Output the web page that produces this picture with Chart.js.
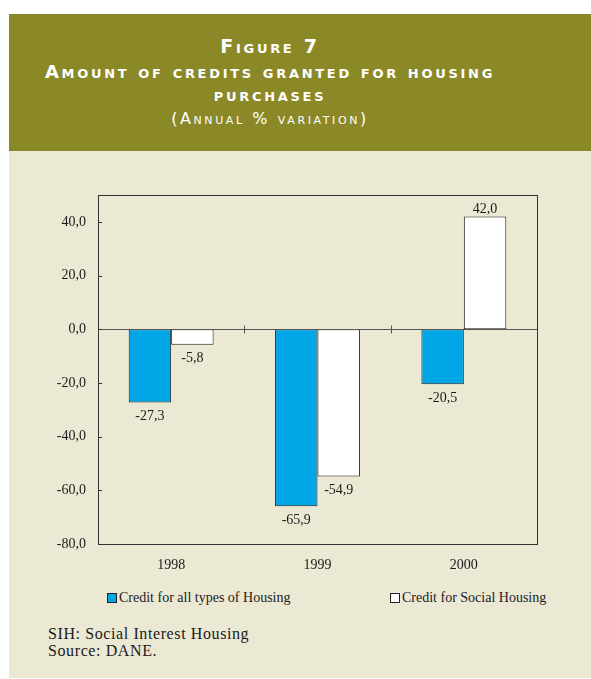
<!DOCTYPE html>
<html lang="en">
  <head>
    <meta charset="UTF-8" />
    <title>Figure 7</title>
    <script src="https://cdn.jsdelivr.net/npm/chart.js"></script>
    <style>
      * {
        margin: 0;
        padding: 0;
        box-sizing: border-box;
      }

      body {
        width: 591px;
        height: 679px;
        background: #ffffff;
        position: relative;
        font-family: "Liberation Serif", serif;
        overflow: hidden;
      }

      /* Header band */
      .header {
        position: absolute;
        left: 9px;
        top: 14px;
        width: 582px;
        height: 137px;
        background: #8b8927;
        color: #ffffff;
        text-align: center;
        font-family: "DejaVu Sans", sans-serif;
        font-weight: bold;
        font-variant: small-caps;
        letter-spacing: 2.7px;
      }

      .header div {
        position: absolute;
        left: 0;
        width: 522px;
        font-size: 18px;
      }

      .header .l1 {
        top: 21px;
        font-size: 19px;
      }

      .header .l2 {
        top: 47px;
      }

      .header .l3 {
        top: 70px;
      }

      .header .l4 {
        top: 95px;
        font-size: 16px;
        font-weight: normal;
        letter-spacing: 2.6px;
      }

      .panel {
        position: absolute;
        left: 9px;
        top: 151px;
        width: 582px;
        height: 527px;
        background: #ebe8d4;
      }

      #chartBox {
        position: absolute;
        left: 0;
        top: 0;
        width: 582px;
        height: 430px;
      }

      .legend {
        position: absolute;
        top: 439px;
        font-size: 14px;
        color: #222;
      }

      .legend span.box {
        display: inline-block;
        width: 10px;
        height: 10px;
        border: 1px solid #222;
        margin-right: 2px;
        vertical-align: -1px;
      }

      .note {
        position: absolute;
        left: 39px;
        top: 474px;
        font-size: 16px;
        line-height: 17px;
        color: #1a1a1a;
        letter-spacing: 0.6px;
      }
    </style>
  </head>
  <body>
    <div class="header">
      <div class="l1">Figure 7</div>
      <div class="l2">Amount of credits granted for housing</div>
      <div class="l3">purchases</div>
      <div class="l4">(Annual % variation)</div>
    </div>

    <div class="panel">
      <div id="chartBox"><canvas id="chart"></canvas></div>

      <div class="legend" style="left: 98px">
        <span class="box" style="background: #00a6e6"></span>Credit for all types of Housing
      </div>
      <div class="legend" style="left: 381px">
        <span class="box" style="background: #ffffff"></span>Credit for Social Housing
      </div>

      <div class="note">SIH: Social Interest Housing<br />Source: DANE.</div>
    </div>

    <script>
      // Data
      const years = ["1998", "1999", "2000"];
      const allHousing = [-27.3, -65.9, -20.5];
      const socialHousing = [-5.8, -54.9, 42.0];
      const yTicks = [-80, -60, -40, -20, 0, 20, 40];

      const fmt = (v) => v.toFixed(1).replace(".", ",");

      // box, inner ticks, zero line, category separators, value labels
      const framePlugin = {
        id: "frame",
        afterDatasetsDraw(chart) {
          const { ctx, chartArea: a, scales } = chart;
          const y = scales.y;
          const x = scales.x;
          ctx.save();
          ctx.lineWidth = 1;

          // zero line
          const y0 = Math.round(y.getPixelForValue(0)) + 0.5;
          ctx.strokeStyle = "#555";
          ctx.beginPath();
          ctx.moveTo(a.left, y0);
          ctx.lineTo(a.right, y0);
          ctx.stroke();

          // separators between categories
          for (let i = 1; i < years.length; i++) {
            const xs =
              Math.round((x.getPixelForValue(i - 1) + x.getPixelForValue(i)) / 2) + 0.5;
            ctx.beginPath();
            ctx.moveTo(xs, y0 - 4);
            ctx.lineTo(xs, y0 + 4);
            ctx.stroke();
          }

          // frame
          ctx.strokeStyle = "#333";
          ctx.strokeRect(
            Math.round(a.left) + 0.5,
            Math.round(a.top) + 0.5,
            Math.round(a.right - a.left),
            Math.round(a.bottom - a.top)
          );

          // inner ticks on left axis
          yTicks.forEach((t) => {
            const yy = Math.round(y.getPixelForValue(t)) + 0.5;
            ctx.beginPath();
            ctx.moveTo(a.left, yy);
            ctx.lineTo(a.left + 4, yy);
            ctx.stroke();
          });

          // value labels
          ctx.fillStyle = "#1a1a1a";
          ctx.font = "14px 'Liberation Serif', serif";
          ctx.textAlign = "center";
          chart.data.datasets.forEach((ds, di) => {
            const meta = chart.getDatasetMeta(di);
            meta.data.forEach((bar, i) => {
              const v = ds.data[i];
              if (v < 0) {
                ctx.textBaseline = "top";
                ctx.fillText(fmt(v), bar.x, bar.y + 7);
              } else {
                ctx.textBaseline = "bottom";
                ctx.fillText(fmt(v), bar.x, bar.y);
              }
            });
          });
          ctx.restore();
        },
      };

      const ctx = document.getElementById("chart").getContext("2d");
      new Chart(ctx, {
        type: "bar",
        data: {
          labels: years,
          datasets: [
            {
              label: "Credit for all types of Housing",
              data: allHousing,
              backgroundColor: "#00a6e6",
              borderColor: "#222",
              borderWidth: 1,
              borderSkipped: false,
            },
            {
              label: "Credit for Social Housing",
              data: socialHousing,
              backgroundColor: "#ffffff",
              borderColor: "#222",
              borderWidth: 1,
              borderSkipped: false,
            },
          ],
        },
        options: {
          responsive: true,
          maintainAspectRatio: false,
          animation: false,
          categoryPercentage: 0.58,
          barPercentage: 1.0,
          layout: { padding: { left: 0, right: 54, top: 44, bottom: 0 } },
          plugins: {
            legend: { display: false },
            tooltip: { enabled: false },
          },
          scales: {
            x: {
              grid: { display: false, drawTicks: false },
              border: { display: false },
              ticks: {
                color: "#1a1a1a",
                padding: 13,
                font: { family: "'Liberation Serif', serif", size: 14 },
              },
              afterFit(scale) {
                scale.height = 37;
              },
            },
            y: {
              min: -80,
              max: 50,
              grid: { display: false, drawTicks: false },
              border: { display: false },
              afterBuildTicks(scale) {
                scale.ticks = yTicks.map((v) => ({ value: v }));
              },
              ticks: {
                color: "#1a1a1a",
                padding: 12,
                font: { family: "'Liberation Serif', serif", size: 14 },
                callback: (v) => fmt(v),
              },
              afterFit(scale) {
                scale.width = 89;
              },
            },
          },
        },
        plugins: [framePlugin],
      });
    </script>
  </body>
</html>
